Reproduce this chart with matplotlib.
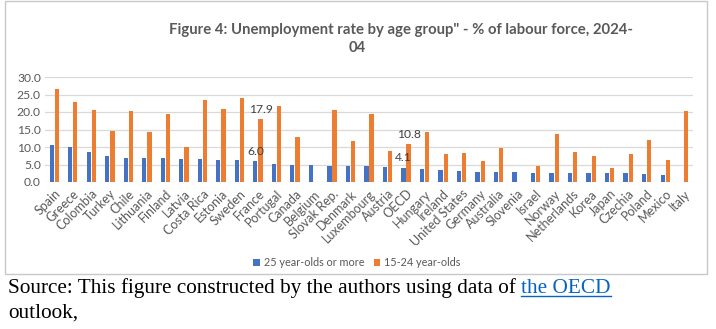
import matplotlib
matplotlib.use("Agg")
import matplotlib.pyplot as plt
import numpy as np
from matplotlib.patches import Rectangle

countries = ["Spain", "Greece", "Colombia", "Turkey", "Chile", "Lithuania", "Finland", "Latvia",
             "Costa Rica", "Estonia", "Sweden", "France", "Portugal", "Canada", "Belgium",
             "Slovak Rep.", "Denmark", "Luxembourg", "Austria", "OECD", "Hungary", "Ireland",
             "United States", "Germany", "Australia", "Slovenia", "Israel", "Norway",
             "Netherlands", "Korea", "Japan", "Czechia", "Poland", "Mexico", "Italy"]
older = [10.5, 10.0, 8.6, 7.4, 7.0, 7.0, 6.8, 6.6, 6.5, 6.4, 6.4, 6.0, 5.1, 5.0, 4.9,
         4.7, 4.6, 4.5, 4.3, 4.1, 3.7, 3.4, 3.2, 3.0, 3.0, 2.8, 2.7, 2.7,
         2.6, 2.6, 2.5, 2.5, 2.4, 2.0, np.nan]
youth = [26.6, 22.8, 20.6, 14.6, 20.3, 14.3, 19.3, 10.0, 23.3, 20.8, 23.9, 17.9, 21.7, 12.9, np.nan,
         20.7, 11.8, 19.4, 9.0, 10.8, 14.2, 8.0, 8.2, 6.1, 9.7, np.nan, 4.6, 13.8,
         8.7, 7.5, 4.0, 7.9, 12.0, 6.4, 20.4]
series_names = ["25 year-olds or more", "15-24 year-olds"]
title_line1 = "Figure 4: Unemployment rate by age group\" - % of labour force, 2024-"
title_line2 = "04"
labelled = ["France", "OECD"]

BLUE = "#4472C4"
ORANGE = "#ED7D31"
GRAY = "#595959"
FONT = "Lato"

fig = plt.figure(figsize=(7.16, 3.29), dpi=100)
fig.patch.set_facecolor("white")

# chart frame
fig.patches.append(Rectangle((5/716, 1-274/329), 702/716, 273/329, transform=fig.transFigure,
                             fill=False, edgecolor="#C8C8C8", linewidth=1.0))

ax = fig.add_axes([45/716, 1-182/329, 648/716, 105/329])
n = len(countries)
x = np.arange(n)
w = 0.23
off = 0.14
ax.bar(x - off, older, width=w, color=BLUE, label=series_names[0], zorder=3)
ax.bar(x + off, youth, width=w, color=ORANGE, label=series_names[1], zorder=3)
ax.set_xlim(-0.5, n - 0.5)
ax.set_ylim(0, 30)
ax.set_yticks(np.arange(0, 31, 5))
ax.set_yticklabels([f"{v:.1f}" for v in np.arange(0, 31, 5)], fontsize=8.7, color=GRAY, family=FONT)
ax.set_xticks(x)
ax.set_xticklabels(countries, rotation=45, ha="right", rotation_mode="anchor",
                   fontsize=9, color=GRAY, family=FONT)
ax.tick_params(axis="y", length=0, pad=3)
ax.tick_params(axis="x", length=0, pad=4)
ax.grid(axis="y", color="#D9D9D9", linewidth=0.9, zorder=0)
for s in ax.spines.values():
    s.set_visible(False)

for c in labelled:
    i = countries.index(c)
    ax.annotate(f"{older[i]:.1f}", (x[i] - off, older[i]), xytext=(0, 3), textcoords="offset points",
                ha="center", va="bottom", fontsize=8.7, color="#404040", family=FONT)
    ax.annotate(f"{youth[i]:.1f}", (x[i] + off, youth[i]), xytext=(0, 3), textcoords="offset points",
                ha="center", va="bottom", fontsize=8.7, color="#404040", family=FONT)

fig.text(401/716, 1-30/329, title_line1, ha="center", va="center", fontsize=10.7, fontweight="bold",
         color=GRAY, family=FONT)
fig.text(357/716, 1-48/329, title_line2, ha="center", va="center", fontsize=10.7, fontweight="bold",
         color=GRAY, family=FONT)

leg = fig.legend(loc="center", bbox_to_anchor=(357/716, 1-263/329), ncol=2, frameon=False,
                 handlelength=0.6, handleheight=0.6, handletextpad=0.35, columnspacing=0.9,
                 prop={"family": FONT, "size": 7.8})
for t in leg.get_texts():
    t.set_color(GRAY)

# source text
SERIF = "Liberation Serif"
FS = 15.3
src1 = fig.text(8/716, 1-293/329, "Source: This figure constructed by the authors using data of ",
                ha="left", va="baseline", fontsize=FS, family=SERIF, color="black")
fig.canvas.draw()
r = fig.canvas.get_renderer()
bb = src1.get_window_extent(r)
x2 = bb.x1 / fig.bbox.width
link = fig.text(x2, 1-293/329, "the OECD", ha="left", va="baseline", fontsize=FS,
                family=SERIF, color="#0563C1")
fig.canvas.draw()
lb = link.get_window_extent(r)
fig.lines.append(plt.Line2D([lb.x0/fig.bbox.width, lb.x1/fig.bbox.width],
                            [(1-296/329), (1-296/329)], transform=fig.transFigure,
                            color="#0563C1", linewidth=1.0))
fig.text(8/716, 1-318/329, "outlook,", ha="left", va="baseline", fontsize=FS,
         family=SERIF, color="black")

fig.savefig("out.png", dpi=100)
